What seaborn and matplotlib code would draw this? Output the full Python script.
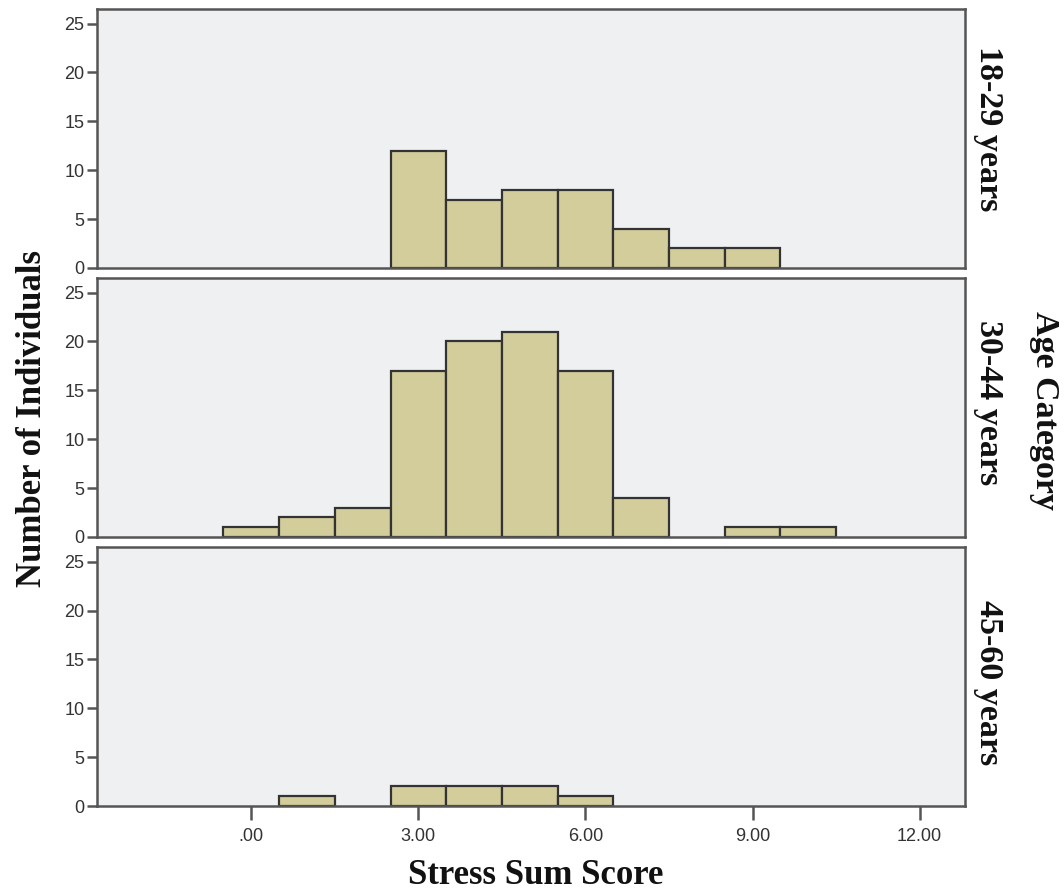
import numpy as np
import pandas as pd
import matplotlib
matplotlib.use("Agg")
import matplotlib.pyplot as plt
import seaborn as sns

# Data
scores = [0, 1, 2, 3, 4, 5, 6, 7, 8, 9, 10]
age_groups = ["18-29 years", "30-44 years", "45-60 years"]
counts_18_29 = [0, 0, 0, 12, 7, 8, 8, 4, 2, 2, 0]
counts_30_44 = [1, 2, 3, 17, 20, 21, 17, 4, 0, 1, 1]
counts_45_60 = [0, 1, 0, 2, 2, 2, 1, 0, 0, 0, 0]
all_counts = [counts_18_29, counts_30_44, counts_45_60]
x_ticks = [0, 3, 6, 9, 12]
x_tick_labels = [".00", "3.00", "6.00", "9.00", "12.00"]
y_ticks = [0, 5, 10, 15, 20, 25]

sns.set_style("white")
plt.rcParams["font.family"] = ["Liberation Sans", "DejaVu Sans"]

df = pd.concat([
    pd.DataFrame({"score": scores, "count": c, "age": g})
    for g, c in zip(age_groups, all_counts)
], ignore_index=True)
df = df[df["count"] > 0]

fig = plt.figure(figsize=(10.64, 8.92), dpi=100)
left, width = 0.0912, 0.816
bottoms = [0.6996, 0.398, 0.0964]
height = 0.2904

bg = "#eff0f2"
bar_color = "#d3cd9b"
edge = "#333333"
frame = "#555555"
label_centers = [0.539, 0.519, 0.477]

for i, g in enumerate(age_groups):
    ax = fig.add_axes([left, bottoms[i], width, height])
    sub = df[df["age"] == g]
    sns.histplot(data=sub, x="score", weights="count", discrete=True, ax=ax,
                 color=bar_color, edgecolor=edge, linewidth=1.6, alpha=1)
    for p in ax.patches:
        if p.get_height() == 0:
            p.set_visible(False)
    ax.set_facecolor(bg)
    ax.set_xlim(-2.77, 12.82)
    ax.set_ylim(0, 26.5)
    ax.set_yticks(y_ticks)
    ax.set_yticklabels([str(v) for v in y_ticks], fontsize=13, color="#333333")
    ax.set_xlabel("")
    ax.set_ylabel("")
    for s in ax.spines.values():
        s.set_color(frame)
        s.set_linewidth(1.8)
    ax.tick_params(axis="y", left=True, length=7, width=1.8, color=frame, pad=2)
    if i < 2:
        ax.set_xticks([])
    else:
        ax.set_xticks(x_ticks)
        ax.set_xticklabels(x_tick_labels, fontsize=13, color="#333333")
        ax.tick_params(axis="x", bottom=True, length=10, width=1.8, color=frame, pad=6)
    ax.text(1.027, label_centers[i], g, transform=ax.transAxes, rotation=-90,
            ha="center", va="center", fontsize=24.5, fontweight="bold",
            family="Liberation Serif", color="#111111")

fig.text(0.031, 0.531, "Number of Individuals", rotation=90, ha="center",
         va="center", fontsize=25, fontweight="bold", family="Liberation Serif",
         color="#111111")
fig.text(0.982, 0.540, "Age Category", rotation=-90, ha="center",
         va="center", fontsize=24.5, fontweight="bold", family="Liberation Serif",
         color="#111111")
fig.text(0.503, 0.019, "Stress Sum Score", ha="center", va="center",
         fontsize=25, fontweight="bold", family="Liberation Serif",
         color="#111111")

fig.savefig("out.png", dpi=100, facecolor="white")
